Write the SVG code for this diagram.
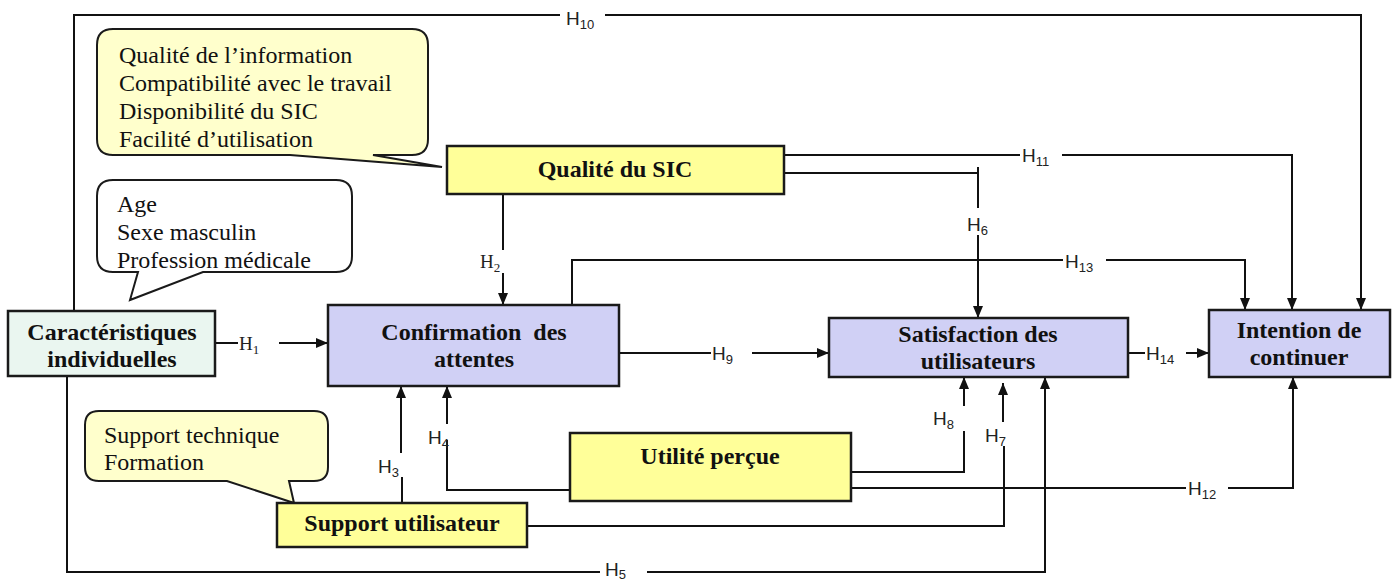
<svg xmlns="http://www.w3.org/2000/svg" width="1397" height="583" viewBox="0 0 1397 583">
<style>
.bg{fill:#ffffff}
.node{stroke:#1a1a1a;stroke-width:2.5}
.yel{fill:#ffff99}
.lav{fill:#d0d0f5}
.mint{fill:#eaf6f0}
.call{fill:#ffffcc;stroke:#1a1a1a;stroke-width:2}
.callw{fill:#ffffff;stroke:#1a1a1a;stroke-width:2}
.nt{font-family:"Liberation Serif","Times New Roman",serif;font-weight:bold;font-size:24px;fill:#111;text-anchor:middle}
.ct{font-family:"Liberation Serif","Times New Roman",serif;font-size:24px;fill:#111}
.ln{fill:none;stroke:#111;stroke-width:2}
.hl{font-family:"Liberation Sans",Arial,sans-serif;font-size:19px;fill:#222}
.hs{font-family:"Liberation Serif","Times New Roman",serif;font-size:19px;fill:#222}
.sub{font-size:13px}
</style>
<defs>
<marker id="arr" markerUnits="userSpaceOnUse" markerWidth="12" markerHeight="12" viewBox="0 0 12 12" refX="12" refY="6" orient="auto">
<path d="M0,1 L12,6 L0,11 z" fill="#111"/>
</marker>
</defs>
<rect class="bg" x="0" y="0" width="1397" height="583"/>

<g id="connectors">
<!-- H10 -->
<path class="ln" d="M74,311 V15 H560"/>
<path class="ln" d="M605,15 H1361 V310" marker-end="url(#arr)"/>
<text class="hl" x="566" y="25">H<tspan class="sub" dy="4">10</tspan></text>
<!-- H11 -->
<path class="ln" d="M784,155 H1020"/>
<path class="ln" d="M1062,155 H1292 V310" marker-end="url(#arr)"/>
<text class="hl" x="1022" y="162">H<tspan class="sub" dy="4">11</tspan></text>
<!-- H6 -->
<path class="ln" d="M784,173 H978 M978,167 V208"/>
<path class="ln" d="M978,235 V318" marker-end="url(#arr)"/>
<text class="hl" x="967" y="231">H<tspan class="sub" dy="4">6</tspan></text>
<!-- H13 -->
<path class="ln" d="M572,305 V260 H1063"/>
<path class="ln" d="M1106,260 H1245 V310" marker-end="url(#arr)"/>
<text class="hl" x="1065" y="268">H<tspan class="sub" dy="4">13</tspan></text>
<!-- H2 -->
<path class="ln" d="M503,194 V250"/>
<path class="ln" d="M503,273 V305" marker-end="url(#arr)"/>
<text class="hs" x="480" y="268">H<tspan class="sub" dy="4">2</tspan></text>
<!-- H1 -->
<path class="ln" d="M215,343 H238"/>
<path class="ln" d="M279,343 H328" marker-end="url(#arr)"/>
<text class="hs" x="239" y="350">H<tspan class="sub" dy="4">1</tspan></text>
<!-- H9 -->
<path class="ln" d="M619,353 H711"/>
<path class="ln" d="M752,353 H829" marker-end="url(#arr)"/>
<text class="hl" x="712" y="360">H<tspan class="sub" dy="4">9</tspan></text>
<!-- H14 -->
<path class="ln" d="M1128,353 H1145"/>
<path class="ln" d="M1186,353 H1209" marker-end="url(#arr)"/>
<text class="hl" x="1146" y="360">H<tspan class="sub" dy="4">14</tspan></text>
<!-- H3 -->
<path class="ln" d="M402,503 V477"/>
<path class="ln" d="M401,453 V386" marker-end="url(#arr)"/>
<text class="hl" x="378" y="473">H<tspan class="sub" dy="4">3</tspan></text>
<!-- H4 -->
<path class="ln" d="M570,490 H447 V440"/>
<path class="ln" d="M447,424 V386" marker-end="url(#arr)"/>
<text class="hl" x="428" y="444">H<tspan class="sub" dy="4">4</tspan></text>
<!-- H8 -->
<path class="ln" d="M851,472 H964 V431"/>
<path class="ln" d="M964,406 V377" marker-end="url(#arr)"/>
<text class="hl" x="933" y="425">H<tspan class="sub" dy="4">8</tspan></text>
<!-- H7 -->
<path class="ln" d="M527,526 H1004 V446"/>
<path class="ln" d="M1003,422 V383" marker-end="url(#arr)"/>
<text class="hl" x="985" y="442">H<tspan class="sub" dy="4">7</tspan></text>
<!-- H12 -->
<path class="ln" d="M851,488 H1186"/>
<path class="ln" d="M1228,488 H1293 V377" marker-end="url(#arr)"/>
<text class="hl" x="1188" y="495">H<tspan class="sub" dy="4">12</tspan></text>
<!-- H5 -->
<path class="ln" d="M67,376 V572 H600"/>
<path class="ln" d="M647,572 H1045 V377" marker-end="url(#arr)"/>
<text class="hl" x="605" y="576">H<tspan class="sub" dy="3">5</tspan></text>
</g>

<g id="callout-qualite">
<path class="call" d="M113,29 H412 Q428,29 428,45 V139 Q428,155 412,155 H373 L442,167 L290,155 H113 Q97,155 97,139 V45 Q97,29 113,29 Z"/>
<text class="ct" x="119" y="63">Qualité de l’information</text>
<text class="ct" x="119" y="91">Compatibilité avec le travail</text>
<text class="ct" x="119" y="119">Disponibilité du SIC</text>
<text class="ct" x="119" y="147">Facilité  d’utilisation</text>
</g>

<g id="callout-individu">
<path class="callw" d="M113,180 H336 Q352,180 352,196 V256 Q352,272 336,272 H203 L130,300 L138,272 H113 Q97,272 97,256 V196 Q97,180 113,180 Z"/>
<text class="ct" x="117" y="212">Age</text>
<text class="ct" x="117" y="240">Sexe masculin</text>
<text class="ct" x="117" y="268">Profession médicale</text>
</g>

<g id="callout-support">
<path class="call" d="M99,411 H314 Q328,411 328,425 V467 Q328,481 314,481 H289 L294,503 L227,481 H99 Q85,481 85,467 V425 Q85,411 99,411 Z"/>
<text class="ct" x="104" y="443">Support technique</text>
<text class="ct" x="104" y="470">Formation</text>
</g>

<g id="node-qualite">
<rect class="node yel" x="447" y="146" width="337" height="48"/>
<text class="nt" x="615" y="177">Qualité du SIC</text>
</g>

<g id="node-caracteristiques">
<rect class="node mint" x="8" y="311" width="207" height="65"/>
<text class="nt" x="112" y="340">Caractéristiques</text>
<text class="nt" x="112" y="367">individuelles</text>
</g>

<g id="node-confirmation">
<rect class="node lav" x="328" y="305" width="291" height="81"/>
<text class="nt" x="474" y="340" word-spacing="6">Confirmation des</text>
<text class="nt" x="474" y="367">attentes</text>
</g>

<g id="node-satisfaction">
<rect class="node lav" x="829" y="318" width="299" height="59"/>
<text class="nt" x="978" y="342">Satisfaction des</text>
<text class="nt" x="978" y="369">utilisateurs</text>
</g>

<g id="node-intention">
<rect class="node lav" x="1209" y="310" width="181" height="67"/>
<text class="nt" x="1299" y="338">Intention de</text>
<text class="nt" x="1299" y="365">continuer</text>
</g>

<g id="node-utilite">
<rect class="node yel" x="570" y="433" width="281" height="68"/>
<text class="nt" x="710" y="464">Utilité perçue</text>
</g>

<g id="node-support">
<rect class="node yel" x="277" y="503" width="250" height="44"/>
<text class="nt" x="402" y="531">Support utilisateur</text>
</g>
</svg>
